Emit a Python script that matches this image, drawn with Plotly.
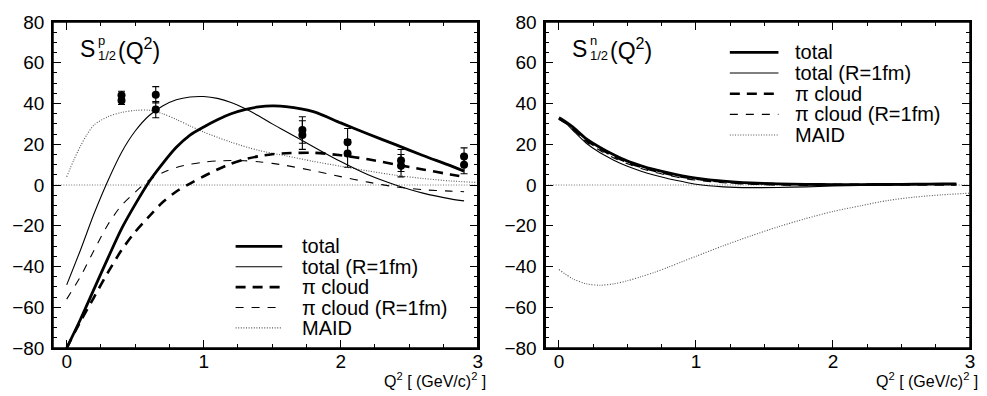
import plotly.graph_objects as go
from plotly.subplots import make_subplots

# ---------------- data: proton (left panel) ----------------
q_p = [0.0, 0.1, 0.2, 0.3, 0.4, 0.5, 0.6, 0.7, 0.8, 0.9, 1.0, 1.1, 1.2, 1.3, 1.4, 1.5,
       1.6, 1.8, 2.0, 2.2, 2.4, 2.6, 2.8, 2.9]
p_total = [-80, -66, -51, -36, -21.5, -9.5, 1.5, 10.5, 18.5, 24.5, 28.5, 32, 35, 37, 38.3, 38.8,
           38.5, 36, 30.5, 25, 19.8, 14.5, 9.5, 6.8]
p_total_R = [-49, -32, -14, 2, 16, 26.5, 34, 38.8, 41.8, 43.2, 43.4, 42.5, 40.5, 37.5, 34, 30,
             26.3, 18.8, 11.5, 5, 0, -4, -6.8, -7.8]
p_pion = [-80, -67, -55, -43, -32, -23, -15.5, -8.5, -3.2, 0.7, 4.3, 7.6, 10.5, 12.6, 14.1, 15.1,
          15.6, 15.8, 14.6, 12.6, 10.1, 7.6, 5.2, 4.0]
p_pion_R = [-56, -45, -32, -19.5, -10, -3.5, 2.3, 6, 8.6, 10.2, 11.2, 11.8, 12, 11.9, 11.4, 10.6,
            9.6, 7, 4.1, 1.4, -0.9, -2.3, -3.0, -3.3]
q_p_maid = [0.0, 0.05, 0.1, 0.15, 0.2, 0.3, 0.4, 0.5, 0.6, 0.7, 0.8, 0.9, 1.0, 1.2, 1.4, 1.6,
            1.8, 2.0, 2.2, 2.4, 2.6, 2.8, 3.0]
p_maid = [4, 12, 19, 25, 29.5, 33.5, 35.6, 36.6, 36.7, 35, 32.2, 29, 26, 21, 17, 14.3,
          11.6, 9.2, 6.9, 4.8, 3.2, 2.0, 1.2]

# experimental points (proton)
q_exp = [0.40, 0.40, 0.65, 0.65, 1.72, 1.72, 2.05, 2.05, 2.44, 2.44, 2.90, 2.90]
s_exp = [44.0, 41.5, 44.3, 37.0, 27.0, 24.5, 21.0, 15.5, 12.0, 9.5, 14.0, 10.0]
s_err = [2.0, 2.0, 4.0, 4.0, 6.5, 7.0, 6.7, 6.8, 5.4, 5.5, 4.2, 4.5]

# ---------------- data: neutron (right panel) ----------------
q_n = [0.0, 0.05, 0.1, 0.2, 0.3, 0.4, 0.5, 0.6, 0.7, 0.8, 0.9, 1.0, 1.2, 1.4, 1.6, 1.8,
       2.0, 2.2, 2.4, 2.6, 2.8, 2.9]
n_total = [33, 31, 28.5, 22.6, 18.4, 14.8, 11.7, 9.4, 7.5, 5.9, 4.5, 3.4, 1.9, 1.0, 0.55, 0.3,
           0.2, 0.2, 0.3, 0.4, 0.5, 0.5]
n_total_R = [32.5, 30.3, 27.0, 20.5, 15.8, 12.2, 9.2, 6.8, 4.8, 3.1, 1.7, 0.4, -0.9, -1.3, -1.2, -0.9,
             -0.5, -0.2, 0.0, 0.2, 0.3, 0.4]
n_pion = [32.6, 30.6, 28.0, 22.0, 17.8, 14.2, 11.2, 8.9, 7.0, 5.4, 4.1, 3.1, 1.6, 0.8, 0.4, 0.2,
          0.1, 0.1, 0.2, 0.3, 0.3, 0.3]
n_pion_R = [32.2, 30.2, 27.4, 21.2, 16.9, 13.3, 10.4, 8.1, 6.2, 4.7, 3.4, 2.4, 1.1, 0.4, 0.1, 0.0,
            0.0, 0.0, 0.1, 0.2, 0.3, 0.3]
q_n_maid = [0.0, 0.1, 0.2, 0.3, 0.4, 0.5, 0.6, 0.7, 0.8, 0.9, 1.0, 1.2, 1.4, 1.6, 1.8, 2.0,
            2.2, 2.4, 2.6, 2.8, 3.0]
n_maid = [-41.5, -46, -48.5, -49.2, -48.5, -47, -45, -42.8, -40.3, -37.6, -35, -29.8, -25, -20.5,
          -16.5, -13, -10.2, -7.6, -5.9, -4.8, -4.0]

legend_names = ["total", "total (R=1fm)", "\u03c0 cloud", "\u03c0 cloud (R=1fm)", "MAID"]
x_ticks = [0, 1, 2, 3]
y_ticks = [-80, -60, -40, -20, 0, 20, 40, 60, 80]

# ---------------- styles ----------------
styles = [
    dict(color="black", width=2.8, dash="solid"),
    dict(color="black", width=1.1, dash="solid"),
    dict(color="black", width=2.6, dash="10px,7px"),
    dict(color="black", width=1.1, dash="8px,8px"),
    dict(color="#555555", width=1.1, dash="1px,1.6px"),
]

FONT = "Liberation Sans, Arial, sans-serif"
W, H = 987, 396
ML, MR, MT, MB = 51, 12, 12, 48
PW = W - ML - MR
panel_w = 428
panel_h = H - MT - MB
left_px = [ML, ML + PW - panel_w]

fig = make_subplots(rows=1, cols=2, horizontal_spacing=(PW - 2 * panel_w) / PW)

panels = [
    (q_p, [p_total, p_total_R, p_pion, p_pion_R], q_p_maid, p_maid),
    (q_n, [n_total, n_total_R, n_pion, n_pion_R], q_n_maid, n_maid),
]

for ci, (qq, curves, qm, maid) in enumerate(panels, start=1):
    # zero line
    fig.add_trace(go.Scatter(x=[-0.1, 3.0], y=[0, 0], mode="lines",
                             line=dict(color="#777777", width=1, dash="1px,1.6px"),
                             hoverinfo="skip", showlegend=False), row=1, col=ci)
    fig.add_trace(go.Scatter(x=qm, y=maid, mode="lines", name=legend_names[4],
                             line=dict(shape="spline", smoothing=0.8, **styles[4]),
                             showlegend=False), row=1, col=ci)
    for k in [3, 2, 1, 0]:
        fig.add_trace(go.Scatter(x=qq, y=curves[k], mode="lines", name=legend_names[k],
                                 line=dict(shape="spline", smoothing=0.8, **styles[k]),
                                 showlegend=False), row=1, col=ci)

fig.add_trace(go.Scatter(x=q_exp, y=s_exp, mode="markers", name="data",
                         marker=dict(color="black", size=8),
                         error_y=dict(type="data", array=s_err, color="black",
                                      thickness=1.1, width=3.5),
                         showlegend=False), row=1, col=1)

axis_common = dict(showline=True, linecolor="black", linewidth=1.5, mirror="allticks",
                   ticks="inside", ticklen=8, tickwidth=1.2, tickcolor="black",
                   showgrid=False, zeroline=False,
                   tickfont=dict(family=FONT, size=19, color="black"))
for ci in (1, 2):
    fig.update_xaxes(range=[-0.1, 3.0], tickvals=x_ticks, ticklabelstandoff=-5,
                     minor=dict(ticks="inside", ticklen=4, tickwidth=1, tickcolor="black",
                                dtick=0.25, tick0=0, showgrid=False),
                     **axis_common, row=1, col=ci)
    fig.update_yaxes(range=[-80, 80], tickvals=y_ticks, ticklabelstandoff=3,
                     minor=dict(ticks="inside", ticklen=4, tickwidth=1, tickcolor="black",
                                dtick=5, tick0=0, showgrid=False),
                     **axis_common, row=1, col=ci)

annotations = []
shapes = []


def fx(panel, px):
    return (px - left_px[panel]) / panel_w


def fy(py):
    return (H - MB - py) / panel_h


axes_refs = [("x domain", "y domain"), ("x2 domain", "y2 domain")]
sups = ["p", "n"]
for pi in range(2):
    xr, yr = axes_refs[pi]
    off = left_px[pi]
    # frame around the panel
    shapes.append(dict(type="rect", xref=xr, yref=yr, x0=0, x1=1, y0=0, y1=1,
                       line=dict(color="black", width=1.5), layer="above"))
    # panel label S^{p/n}_{1/2}(Q^2)
    annotations.append(dict(xref=xr, yref=yr, x=fx(pi, off + 25), y=fy(40), xanchor="left",
                            yanchor="middle", text="S", showarrow=False,
                            font=dict(family=FONT, size=23, color="black")))
    annotations.append(dict(xref=xr, yref=yr, x=fx(pi, off + 43), y=fy(31), xanchor="left",
                            yanchor="middle", text=sups[pi], showarrow=False,
                            font=dict(family=FONT, size=13, color="black")))
    annotations.append(dict(xref=xr, yref=yr, x=fx(pi, off + 43), y=fy(47), xanchor="left",
                            yanchor="middle", text="1/2", showarrow=False,
                            font=dict(family=FONT, size=13, color="black")))
    annotations.append(dict(xref=xr, yref=yr, x=fx(pi, off + 63), y=fy(40), xanchor="left",
                            yanchor="middle", text="(Q<sup>2</sup>)", showarrow=False,
                            font=dict(family=FONT, size=23, color="black")))
    # x-axis title
    annotations.append(dict(xref=xr, yref=yr, x=fx(pi, off + 438), y=fy(381), xanchor="right",
                            yanchor="middle", text="Q<sup>2</sup> [ (GeV/c)<sup>2</sup> ]",
                            showarrow=False, font=dict(family=FONT, size=16, color="black")))

# manual legends (sample lines + labels)
leg_rows = [[243.3, 264.3, 285.3, 306.3, 327.3], [43.3, 64.6, 85.9, 107.2, 128.5]]
leg_line = [(235, 282, 300), (733, 782, 797)]
for pi in range(2):
    xr, yr = axes_refs[pi]
    x0, x1, xt = leg_line[pi]
    for k in range(5):
        st = styles[k]
        shapes.append(dict(type="line", xref=xr, yref=yr, x0=fx(pi, x0), x1=fx(pi, x1),
                           y0=fy(leg_rows[pi][k]), y1=fy(leg_rows[pi][k]),
                           line=dict(color=st["color"], width=st["width"], dash=st["dash"])))
        annotations.append(dict(xref=xr, yref=yr, x=fx(pi, xt), y=fy(leg_rows[pi][k]),
                                xanchor="left", yanchor="middle", text=legend_names[k],
                                showarrow=False,
                                font=dict(family=FONT, size=20, color="black")))

fig.update_layout(width=W, height=H, margin=dict(l=ML, r=MR, t=MT, b=MB),
                  paper_bgcolor="white", plot_bgcolor="white",
                  annotations=annotations, shapes=shapes, showlegend=False)

fig.write_html("out.html", config={"displayModeBar": False})

# remove the default page margin so the figure sits at the window origin
with open("out.html", "r", encoding="utf-8") as fh:
    page = fh.read()
page = page.replace("<body>", '<body style="margin:0;padding:0;">', 1)
with open("out.html", "w", encoding="utf-8") as fh:
    fh.write(page)
